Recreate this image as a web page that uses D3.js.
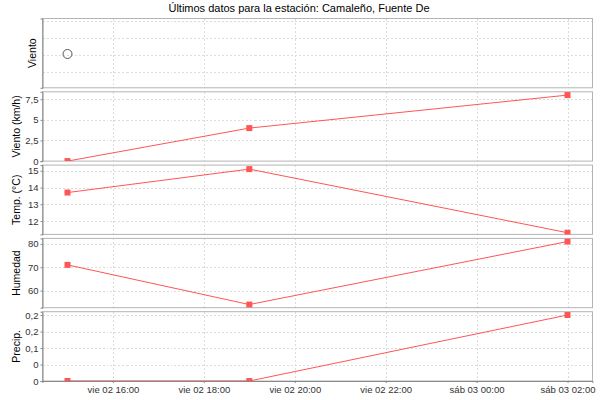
<!DOCTYPE html>
<html><head><meta charset="utf-8">
<script src="https://cdn.jsdelivr.net/npm/d3@7/dist/d3.min.js"></script>
<style>body{margin:0;background:#fff}svg{display:block}text{font-family:"Liberation Sans",Arial,sans-serif}</style>
</head><body><svg id="c" width="600" height="400"></svg>
<script>
// ---- data ----
const times = ["2015-10-02T15:00", "2015-10-02T19:00", "2015-10-03T02:00"];
const windDirTimes = ["2015-10-02T15:00"];
const windDir = [2.05];
const windSpeed = [0, 4, 8];
const temperature = [13.7, 15.1, 11.3];
const humidity = [71, 54, 81];
const precipitation = [0, 0, 0.2];

const xDomain = ["2015-10-02T14:27", "2015-10-03T02:33"];
const xTicks = ["2015-10-02T16:00", "2015-10-02T18:00", "2015-10-02T20:00", "2015-10-02T22:00", "2015-10-03T00:00", "2015-10-03T02:00"];

const panelTitles = ["Viento", "Viento (km/h)", "Temp. (°C)", "Humedad", "Precip."];
const windDirTicks = [1, 2, 3, 4];
const windSpeedTicks = [0, 2.5, 5, 7.5];
const windSpeedLabels = ["0", "2,5", "5", "7,5"];
const tempTicks = [12, 13, 14, 15];
const tempLabels = ["12", "13", "14", "15"];
const humTicks = [60, 70, 80];
const humLabels = ["60", "70", "80"];
const precipTicks = [0, 0.05, 0.1, 0.15, 0.2];
const precipLabels = ["0", "0", "0,1", "0,2", "0,2"];
const chartTitle = "Últimos datos para la estación: Camaleño, Fuente De";

(function () {
// ---- layout ----
const svg = d3.select("#c");
const W = 600, H = 400;
const pLeft = 42.5, pRight = 592.5, pTop = 18.5, pBottom = 381, gap = 4;
const ph = (pBottom - pTop - gap * 4) / 5;

const es = d3.timeFormatLocale({
  dateTime: "%A, %e de %B de %Y, %X", date: "%d/%m/%Y", time: "%H:%M:%S",
  periods: ["AM", "PM"],
  days: ["domingo", "lunes", "martes", "miércoles", "jueves", "viernes", "sábado"],
  shortDays: ["dom", "lun", "mar", "mié", "jue", "vie", "sáb"],
  months: ["enero","febrero","marzo","abril","mayo","junio","julio","agosto","septiembre","octubre","noviembre","diciembre"],
  shortMonths: ["ene","feb","mar","abr","may","jun","jul","ago","sep","oct","nov","dic"]
});
const fmt = es.format("%a %d %H:%M");
const P = s => new Date(s);

const x = d3.scaleTime().domain(xDomain.map(P)).range([pLeft, pRight]);

svg.append("rect").attr("width", W).attr("height", H).attr("fill", "#fff");

svg.append("text").attr("x", 299).attr("y", 12).attr("text-anchor", "middle")
  .attr("font-size", 11).attr("fill", "#000").text(chartTitle);

const panels = [
  {domain: [0.05, 4.15], ticks: windDirTicks, labels: null, values: windDir, t: windDirTimes, type: "circle"},
  {domain: [0, 8.4], ticks: windSpeedTicks, labels: windSpeedLabels, values: windSpeed, t: times, type: "line"},
  {domain: [11.2, 15.34], ticks: tempTicks, labels: tempLabels, values: temperature, t: times, type: "line"},
  {domain: [52.65, 82.35], ticks: humTicks, labels: humLabels, values: humidity, t: times, type: "line"},
  {domain: [0, 0.21], ticks: precipTicks, labels: precipLabels, values: precipitation, t: times, type: "line"}
];

const red = "#ff5555";
panels.forEach((p, i) => {
  const y0 = pTop + i * (ph + gap), y1 = y0 + ph;
  const y = d3.scaleLinear().domain(p.domain).range([y1, y0]);
  const g = svg.append("g");
  const cid = "clip" + i;
  svg.append("clipPath").attr("id", cid).append("rect")
    .attr("x", pLeft).attr("y", y0).attr("width", pRight - pLeft).attr("height", ph);

  // gridlines
  const grid = g.append("g").attr("stroke", "#dcdcdc").attr("stroke-width", 1).attr("stroke-dasharray", "2,2").attr("shape-rendering", "crispEdges");
  p.ticks.forEach(v => {
    const yy = Math.round(y(v)) + 0.5;
    if (yy > y0 + 1 && yy < y1 - 1)
      grid.append("line").attr("x1", pLeft).attr("x2", pRight).attr("y1", yy).attr("y2", yy);
  });
  xTicks.map(P).forEach(t => {
    const xx = Math.round(x(t)) + 0.5;
    grid.append("line").attr("x1", xx).attr("x2", xx).attr("y1", y0).attr("y2", y1);
  });

  // outline
  g.append("rect").attr("x", pLeft).attr("y", y0).attr("width", pRight - pLeft).attr("height", ph)
    .attr("fill", "none").attr("stroke", "#b4b4b4").attr("stroke-width", 1);

  // y axis
  const ax = d3.axisLeft(y).tickValues(p.ticks).tickSize(2).tickPadding(2)
    .tickFormat((d, k) => p.labels ? p.labels[k] : "");
  const ag = g.append("g").attr("transform", `translate(${pLeft},0)`).call(ax);
  ag.select(".domain").attr("stroke", "#888");
  ag.selectAll(".tick line").attr("stroke", "#888");
  ag.selectAll("text").attr("font-size", 9.5).attr("fill", "#333").attr("font-family", "Liberation Sans, Arial, sans-serif");
  if (!p.labels) ag.selectAll(".tick").remove();

  // y title
  const tx = i === 0 ? 36 : 20;
  g.append("text").attr("transform", `translate(${tx},${(y0 + y1) / 2}) rotate(-90)`)
    .attr("text-anchor", "middle").attr("font-size", 10.5).attr("fill", "#000").text(panelTitles[i]);

  const dg = g.append("g").attr("clip-path", `url(#${cid})`);
  const pts = p.t.map((t, k) => [x(P(t)), y(p.values[k])]);
  if (p.type === "circle") {
    dg.selectAll("circle").data(pts).join("circle")
      .attr("cx", d => d[0]).attr("cy", d => d[1]).attr("r", 4.5)
      .attr("fill", "none").attr("stroke", "#555").attr("stroke-width", 1);
  } else {
    dg.append("path").attr("d", d3.line()(pts)).attr("fill", "none").attr("stroke", red).attr("stroke-width", 1);
    dg.selectAll("rect").data(pts).join("rect")
      .attr("x", d => d[0] - 3).attr("y", d => d[1] - 3).attr("width", 6).attr("height", 6).attr("fill", red);
  }

  if (i === 4) {
    const xa = d3.axisBottom(x).tickValues(xTicks.map(P)).tickSize(2).tickPadding(3).tickFormat(fmt);
    const xg = g.append("g").attr("transform", `translate(0,${y1})`).call(xa);
    xg.select(".domain").attr("stroke", "#888");
    xg.selectAll(".tick line").attr("stroke", "#888");
    xg.selectAll("text").attr("font-size", 9.5).attr("fill", "#333").attr("font-family", "Liberation Sans, Arial, sans-serif");
  }
});
})();
</script></body></html>
